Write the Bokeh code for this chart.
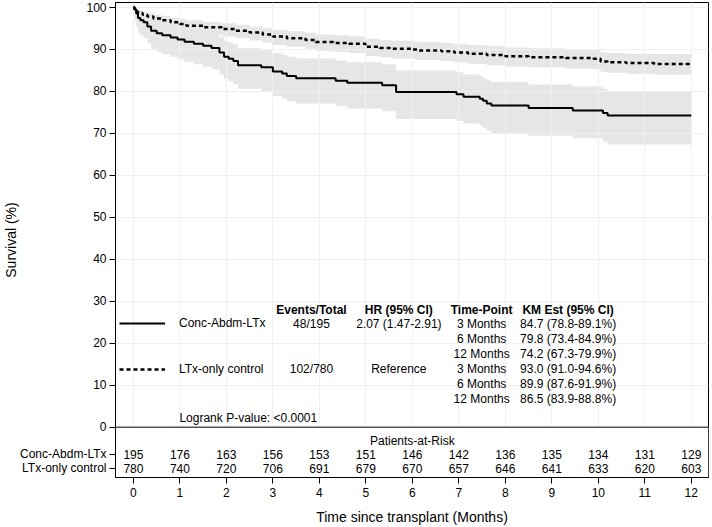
from bokeh.plotting import figure
from bokeh.models import ColumnDataSource, FixedTicker, Span, Label, Legend, LegendItem, BoxAnnotation
from bokeh.embed import file_html
from bokeh.resources import INLINE
from bokeh.core.properties import value

FONT = "Liberation Sans"

# ---------------- data ----------------
# Conc-Abdm-LTx: KM step curve (time in months, survival %) with 95% CI
conc_t = [0, 0.03, 0.06, 0.10, 0.15, 0.22, 0.30, 0.38, 0.50, 0.62, 0.80, 0.95, 1.10, 1.30, 1.50,
          1.68, 1.85, 1.95, 2.05, 2.15, 2.25, 2.75, 3.00, 3.20, 3.30, 3.50, 4.35, 4.60, 5.35,
          5.65, 6.95, 7.10, 7.45, 7.52, 7.60, 7.70, 8.50, 9.45, 10.10, 10.20, 12.00]
conc_s = [100, 99.5, 98.5, 97.4, 96.9, 96.4, 95.4, 94.4, 93.8, 93.3, 92.8, 92.3, 91.8, 91.3, 90.8,
          90.3, 89.2, 88.2, 87.7, 87.2, 86.2, 85.7, 84.7, 84.2, 83.6, 83.1, 82.5, 82.0, 81.4,
          79.8, 79.3, 78.7, 78.2, 77.7, 77.1, 76.6, 76.0, 75.4, 74.8, 74.2, 74.2]
conc_lo = [100, 96.5, 95.2, 93.9, 93.3, 92.6, 91.4, 90.1, 89.4, 88.8, 88.2, 87.6, 87.0, 86.4, 85.8,
           85.3, 84.0, 82.9, 82.3, 81.7, 80.6, 80.0, 78.8, 78.3, 77.6, 77.1, 76.4, 75.9, 75.2,
           73.4, 72.9, 72.3, 71.7, 71.2, 70.6, 70.0, 69.4, 68.8, 68.0, 67.3, 67.3]
conc_hi = [100, 99.9, 99.5, 98.9, 98.6, 98.3, 97.6, 96.9, 96.5, 96.1, 95.7, 95.3, 94.9, 94.5, 94.1,
           93.7, 92.8, 92.0, 91.6, 91.2, 90.3, 89.9, 89.1, 88.7, 88.2, 87.8, 87.3, 86.9, 86.4,
           84.9, 84.5, 84.0, 83.6, 83.1, 82.6, 82.2, 81.6, 81.1, 80.5, 79.9, 79.9]

# LTx-only control
ctrl_t = [0, 0.02, 0.05, 0.10, 0.20, 0.30, 0.43, 0.60, 0.80, 1.00, 1.14, 1.50, 1.90, 2.20, 2.50,
          2.78, 3.00, 3.30, 3.70, 3.92, 4.30, 4.64, 4.99, 5.30, 5.56, 6.00, 6.10, 6.63, 6.90,
          7.20, 7.60, 8.00, 8.50, 9.30, 9.90, 10.05, 10.20, 10.60, 11.20, 12.00]
ctrl_s = [100, 99.5, 99.0, 98.6, 98.2, 97.8, 97.3, 96.9, 96.4, 96.0, 95.6, 95.2, 94.8, 94.4, 94.0,
          93.5, 93.0, 92.6, 92.2, 91.7, 91.5, 91.3, 90.6, 90.3, 90.1, 89.9, 89.7, 89.5, 89.2,
          88.9, 88.6, 88.3, 88.1, 87.9, 87.7, 87.1, 86.9, 86.7, 86.5, 86.5]
ctrl_lo = [100, 98.9, 98.2, 97.6, 97.1, 96.6, 96.0, 95.5, 94.9, 94.4, 94.0, 93.5, 93.0, 92.6, 92.1,
           91.6, 91.0, 90.6, 90.1, 89.6, 89.4, 89.1, 88.4, 88.1, 87.8, 87.6, 87.4, 87.2, 86.9,
           86.5, 86.2, 85.9, 85.7, 85.4, 85.2, 84.6, 84.4, 84.1, 83.9, 83.9]
ctrl_hi = [100, 99.8, 99.5, 99.2, 98.9, 98.6, 98.2, 97.9, 97.5, 97.2, 96.9, 96.5, 96.2, 95.8, 95.4,
           95.0, 94.6, 94.3, 93.9, 93.5, 93.3, 93.1, 92.5, 92.2, 92.0, 91.9, 91.7, 91.5, 91.2,
           91.0, 90.7, 90.4, 90.2, 90.0, 89.8, 89.3, 89.1, 88.9, 88.8, 88.8]

months = list(range(0, 13))
y_ticks = list(range(0, 101, 10))
conc_risk = [195, 176, 163, 156, 153, 151, 146, 142, 136, 135, 134, 131, 129]
ctrl_risk = [780, 740, 720, 706, 691, 679, 670, 657, 646, 641, 633, 620, 603]

groups = ["Conc-Abdm-LTx", "LTx-only control"]
events = ["48/195", "102/780"]
hazard = ["2.07 (1.47-2.91)", "Reference"]
time_points = ["3 Months", "6 Months", "12 Months"]
km_est = [["84.7 (78.8-89.1%)", "79.8 (73.4-84.9%)", "74.2 (67.3-79.9%)"],
          ["93.0 (91.0-94.6%)", "89.9 (87.6-91.9%)", "86.5 (83.9-88.8%)"]]
headers = ["Events/Total", "HR (95% CI)", "Time-Point", "KM Est (95% CI)"]
logrank = "Logrank P-value: <0.0001"

# ---------------- figure ----------------
p = figure(width=712, height=527, x_range=(-0.385, 12.37), y_range=(-11.98, 101.12),
           output_backend="svg", toolbar_location=None,
           min_border_left=112, min_border_right=4, min_border_top=2, min_border_bottom=50,
           background_fill_color="white", border_fill_color="white")

p.outline_line_color = "black"
p.outline_line_width = 1

BAND = "#e6e6e6"
src_conc = ColumnDataSource(dict(t=conc_t, s=conc_s, lo=conc_lo, hi=conc_hi))
src_ctrl = ColumnDataSource(dict(t=ctrl_t, s=ctrl_s, lo=ctrl_lo, hi=ctrl_hi))

p.varea_step(x="t", y1="lo", y2="hi", source=src_conc, step_mode="after",
             fill_color=BAND, fill_alpha=1, level="underlay")
p.varea_step(x="t", y1="lo", y2="hi", source=src_ctrl, step_mode="after",
             fill_color=BAND, fill_alpha=1, level="underlay")

# grids
p.xgrid.ticker = FixedTicker(ticks=months)
p.ygrid.ticker = FixedTicker(ticks=y_ticks)
for g in (p.xgrid, p.ygrid):
    g.grid_line_color = "#f0f0f0"
    g.grid_line_width = 1
    g.level = "glyph"

# hide grid in patients-at-risk area
p.add_layout(BoxAnnotation(top=0, fill_color="white", fill_alpha=1, line_alpha=0, level="glyph"))

r_conc = p.step(x="t", y="s", source=src_conc, mode="after", line_color="black",
                line_width=2, level="annotation")
r_ctrl = p.step(x="t", y="s", source=src_ctrl, mode="after", line_color="black",
                line_width=2.5, line_dash="4 3", level="annotation")

p.add_layout(Span(location=0, dimension="width", line_color="black", line_width=1))

# patients-at-risk rows (row labels are carried by the left axis)
risk_y = [-6.5, -9.83]

# axes
p.xaxis.ticker = FixedTicker(ticks=months)
p.yaxis.ticker = FixedTicker(ticks=[risk_y[1], risk_y[0]] + y_ticks)
p.yaxis.major_label_overrides = {risk_y[0]: groups[0], risk_y[1]: groups[1]}
p.xaxis.axis_label = "Time since transplant (Months)"
p.yaxis.axis_label = "Survival (%)"
for ax in (p.xaxis[0], p.yaxis[0]):
    ax.axis_line_color = "black"
    ax.major_tick_line_color = "black"
    ax.major_tick_out = 6
    ax.major_tick_in = 0
    ax.minor_tick_line_color = None
    ax.major_label_text_font = FONT
    ax.major_label_text_font_size = "12px"
    ax.major_label_text_color = "black"
    ax.axis_label_text_font = FONT
    ax.axis_label_text_font_size = "14px"
    ax.axis_label_text_font_style = "normal"
    ax.axis_label_text_color = "black"
p.xaxis.major_label_standoff = 4
p.xaxis.axis_label_standoff = 9
p.yaxis.major_label_standoff = 3
p.yaxis.axis_label_standoff = -2

# legend (line samples + group names)
legend = Legend(items=[LegendItem(label=groups[0], renderers=[r_conc]),
                       LegendItem(label=groups[1], renderers=[r_ctrl])],
                location=(4, 101), padding=0, margin=0, spacing=32,
                glyph_width=46, glyph_height=14, label_height=14, label_standoff=14,
                label_text_font=FONT, label_text_font_size="12px", label_text_color="black",
                border_line_alpha=0, background_fill_alpha=0)
p.add_layout(legend)

# summary table
col_x = [3.83, 5.71, 7.49, 9.35]
head_y = 28.0
row_step = 3.57
group_y = [24.62, 13.9]


def add_text(x, y, text, align="center", bold=False):
    p.add_layout(Label(x=x, y=y, text=text, text_align=align, text_baseline="middle",
                       text_font=FONT, text_font_size="12px", text_color="black",
                       text_font_style="bold" if bold else "normal"))


for hx, h in zip(col_x, headers):
    add_text(hx, head_y, h, bold=True)

for gi in range(2):
    gy = group_y[gi]
    add_text(col_x[0], gy, events[gi])
    add_text(col_x[1], gy, hazard[gi])
    for ti, tp in enumerate(time_points):
        ry = gy - ti * row_step
        add_text(col_x[2], ry, tp)
        add_text(col_x[3], ry, km_est[gi][ti])

add_text(0.99, 2.3, logrank, align="left")

# patients at risk
add_text(6.0, -3.35, "Patients-at-Risk")
for gi, counts in enumerate([conc_risk, ctrl_risk]):
    p.text(x=months, y=[risk_y[gi]] * len(months), text=[str(c) for c in counts],
           text_align="center", text_baseline="middle", text_font=value(FONT),
           text_font_size="12px", text_color="black", level="annotation")

open("out.html", "w").write(file_html(p, INLINE))
